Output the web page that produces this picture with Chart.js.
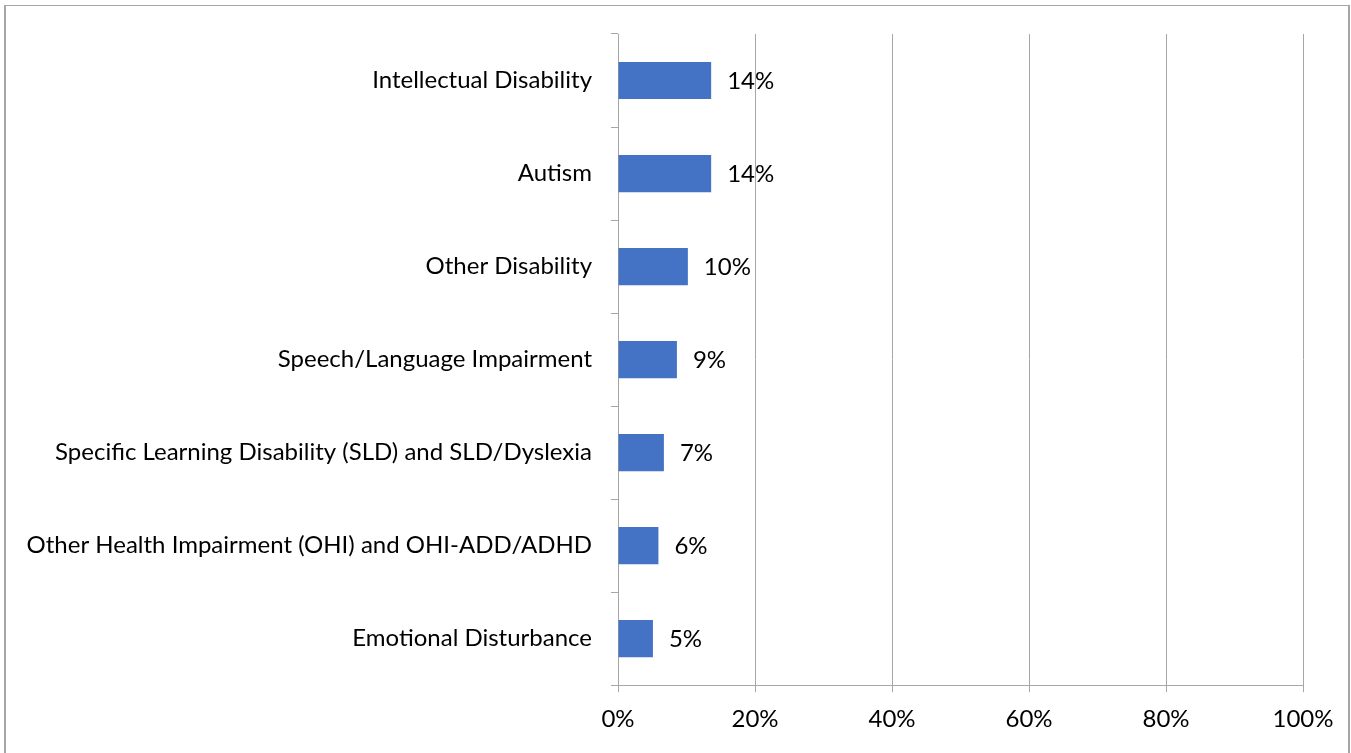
<!DOCTYPE html>
<html>
<head>
<meta charset="utf-8">
<script src="https://cdn.jsdelivr.net/npm/chart.js@4.4.1/dist/chart.umd.min.js"></script>
<style>
  html, body { margin: 0; padding: 0; background: #fff; }
  #wrap { position: absolute; left: 0; top: 0; width: 1351px; height: 753px; }
  #frame {
    position: absolute; left: 4px; top: 5px; width: 1342px; height: 760px;
    border-left: 2px solid #a6a6a6; border-top: 1px solid #a6a6a6; border-right: 2px solid #a6a6a6;
    pointer-events: none;
  }
</style>
</head>
<body>
<div id="wrap">
  <canvas id="chart" width="1351" height="753"></canvas>
  <div id="frame"></div>
</div>
<script>
const categories = [
  'Intellectual Disability',
  'Autism',
  'Other Disability',
  'Speech/Language Impairment',
  'Specific Learning Disability (SLD) and SLD/Dyslexia',
  'Other Health Impairment (OHI) and OHI-ADD/ADHD',
  'Emotional Disturbance'
]
const shares = [13.6, 13.6, 10.2, 8.6, 6.7, 5.9, 5.1]
const xTicks = [0, 20, 40, 60, 80, 100]

const gridGray = '#a6a6a6'
const textFont = { family: 'Lato, "Open Sans", sans-serif', size: 24 }

// draws the "14%" style labels just right of each bar
const valueLabels = {
  id: 'valueLabels',
  afterDatasetsDraw(chart) {
    const ctx = chart.ctx
    const meta = chart.getDatasetMeta(0)
    ctx.save()
    ctx.font = textFont.size + 'px ' + textFont.family
    ctx.fillStyle = '#000'
    ctx.textAlign = 'left'
    ctx.textBaseline = 'middle'
    meta.data.forEach((bar, i) => {
      ctx.fillText(Math.round(shares[i]) + '%', bar.x + 16, bar.y + 1)
    })
    ctx.restore()
  }
}

Chart.defaults.color = '#000'
Chart.defaults.font.family = textFont.family
Chart.defaults.font.size = textFont.size

new Chart('chart', {
  type: 'bar',
  data: {
    labels: categories,
    datasets: [{
      data: shares,
      backgroundColor: '#4472C4',
      borderWidth: 0,
      barPercentage: 0.4,
      categoryPercentage: 1
    }]
  },
  options: {
    indexAxis: 'y',
    responsive: false,
    animation: false,
    layout: { padding: { left: 0, right: 48, top: 34, bottom: 6 } },
    plugins: {
      legend: { display: false },
      tooltip: { enabled: false }
    },
    scales: {
      x: {
        min: 0,
        max: 100,
        afterBuildTicks(scale) {
          scale.ticks = xTicks.map(v => ({ value: v }))
        },
        ticks: {
          callback: v => v + '%',
          padding: 13,
          font: textFont
        },
        grid: { color: gridGray, tickLength: 7, lineWidth: 1 },
        border: { color: gridGray }
      },
      y: {
        afterFit(scale) { scale.width = 618 },
        ticks: { padding: 19, font: textFont },
        grid: {
          offset: true,
          drawOnChartArea: false,
          tickLength: 7,
          color: gridGray
        },
        border: { color: gridGray }
      }
    }
  },
  plugins: [valueLabels]
})
</script>
</body>
</html>
